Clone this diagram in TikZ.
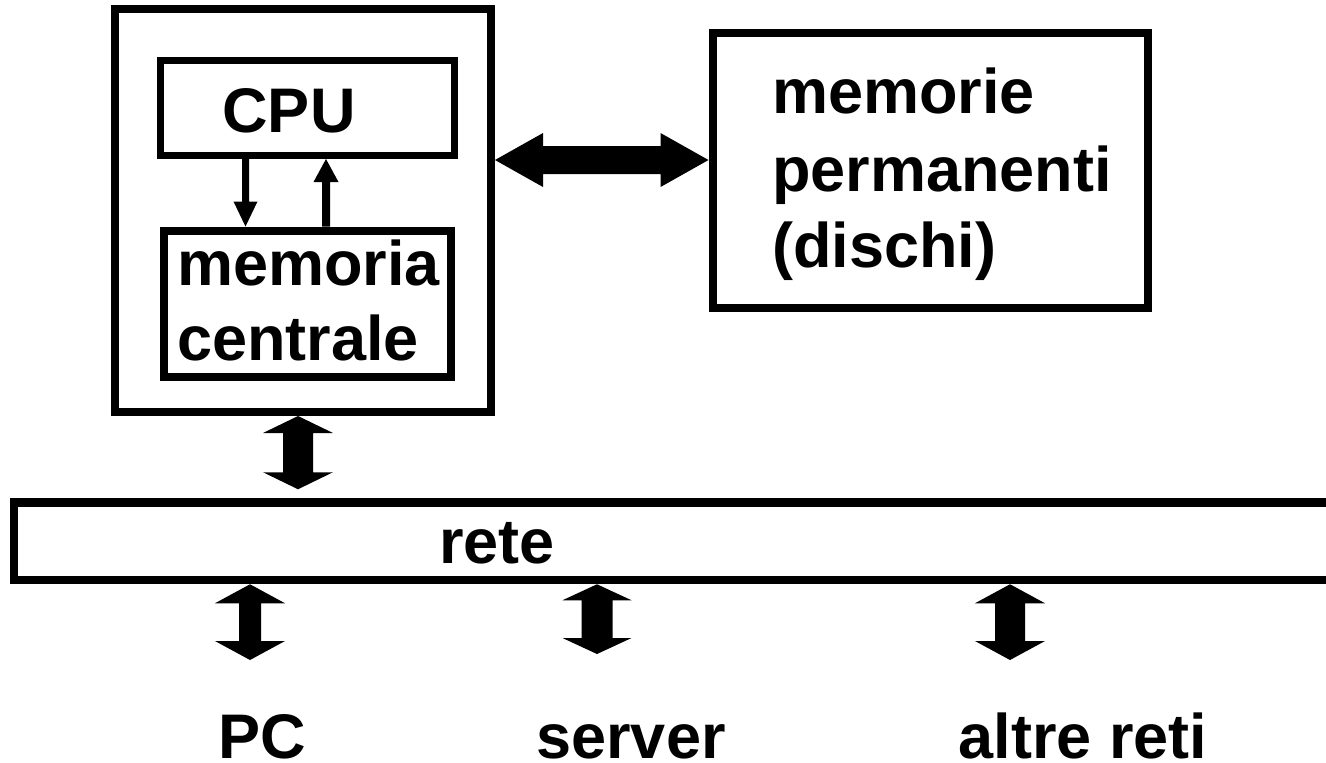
\documentclass[tikz,border=0pt]{standalone}
\usepackage{fontspec}
\setmainfont{Liberation Sans}
\usetikzlibrary{calc}
\newcommand{\vdarrow}[5]{%
  \fill let \p1=(#1), \p2=(#2) in
    (\x1,\y1) -- (\x1+#4,\y1-#5) -- (\x1+#3,\y1-#5) -- (\x1+#3,\y2+#5) -- (\x1+#4,\y2+#5) --
    (\x1,\y2) -- (\x1-#4,\y2+#5) -- (\x1-#3,\y2+#5) -- (\x1-#3,\y1-#5) -- (\x1-#4,\y1-#5) -- cycle;}
\newcommand{\hdarrow}[5]{%
  \fill let \p1=(#1), \p2=(#2) in
    (\x1,\y1) -- (\x1+#5,\y1+#4) -- (\x1+#5,\y1+#3) -- (\x2-#5,\y1+#3) -- (\x2-#5,\y1+#4) --
    (\x2,\y1) -- (\x2-#5,\y1-#4) -- (\x2-#5,\y1-#3) -- (\x1+#5,\y1-#3) -- (\x1+#5,\y1-#4) -- cycle;}
\newcommand{\arrdown}[5]{%
  \fill let \p1=(#1), \p2=(#2) in
    (\x1-#3,\y1) -- (\x1+#3,\y1) -- (\x1+#3,\y2+#5) -- (\x1+#4,\y2+#5) -- (\x1,\y2) --
    (\x1-#4,\y2+#5) -- (\x1-#3,\y2+#5) -- cycle;}
\newcommand{\arrup}[5]{%
  \fill let \p1=(#1), \p2=(#2) in
    (\x1-#3,\y1) -- (\x1+#3,\y1) -- (\x1+#3,\y2-#5) -- (\x1+#4,\y2-#5) -- (\x1,\y2) --
    (\x1-#4,\y2-#5) -- (\x1-#3,\y2-#5) -- cycle;}
\tikzset{
  box/.style={draw, rectangle, inner sep=0pt, line width=4pt, outer sep=2pt},
  thinbox/.style={draw, rectangle, inner sep=0pt, line width=3.5pt, outer sep=1.75pt},
  txt/.style={inner sep=0pt, font=\bfseries\fontsize{31.5pt}{38pt}\selectfont}
}
\begin{document}
\begin{tikzpicture}[x=0.5pt, y=-0.5pt]
\useasboundingbox (0,0) rectangle (1326,762);
\clip (0,0) rectangle (1326,762);
\fill[white] (0,0) rectangle (1326,762);
% boxes
\node[box, minimum width=188pt, minimum height=201.5pt] (outer) at (303,210.5) {};
\node[thinbox, minimum width=147pt, minimum height=47.75pt] (cpu) at (307.5,107.75) {};
\node[box, minimum width=143.75pt, minimum height=73pt] (mem) at (307.25,303.5) {};
\node[box, minimum width=217.75pt, minimum height=137.25pt] (disk) at (930.25,170.25) {};
\node[box, line width=4.25pt, outer sep=2.125pt, minimum width=673pt, minimum height=38.75pt] (rete) at (687,541.25) {};
% labels
\node[txt, anchor=base] (cpulbl) at (289,132) {CPU};
\node[txt, anchor=base west] (memlbl1) at (177,285) {memoria};
\node[txt, anchor=base west] (memlbl2) at (177,360) {centrale};
\node[txt, anchor=base west] (disklbl1) at (772,113) {memorie};
\node[txt, anchor=base west] (disklbl2) at (772,191) {permanenti};
\node[txt, anchor=base west] (disklbl3) at (772,267) {(dischi)};
\node[txt, anchor=base west] (retelbl) at (439,563) {rete};
\node[txt, anchor=base] (pc) at (262,758) {PC};
\node[txt, anchor=base] (server) at (631,758) {server};
\node[txt, anchor=base] (altre) at (1083,758) {altre reti};
% helper coordinates
\coordinate (dx) at (245.5,0);
\coordinate (ux) at (326,0);
\coordinate (hy) at (0,160);
\coordinate (ax1) at (298,0);
\coordinate (pcx) at (250,0);
\coordinate (svx) at (597,0);
\coordinate (alx) at (1010,0);
\coordinate (pcend) at (250,660);
\coordinate (svend) at (597,654);
\coordinate (alend) at (1010,660);
\coordinate (a1t) at (outer.south -| ax1);
\coordinate (a1b) at ([yshift=4.5pt]rete.north -| ax1);
% CPU <-> memoria
\arrdown{cpu.south -| dx}{mem.north -| dx}{1.75pt}{6pt}{12.5pt}
\arrup{mem.north -| ux}{cpu.south -| ux}{2pt}{6.25pt}{11.5pt}
% computer <-> disks
\hdarrow{outer.east |- hy}{disk.west |- hy}{7pt}{13.5pt}{24pt}
% computer <-> rete
\vdarrow{a1t}{a1b}{7.5pt}{17.5pt}{8.5pt}
% rete <-> PC, server, altre reti
\vdarrow{rete.south -| pcx}{pcend}{5.5pt}{17.5pt}{9.5pt}
\vdarrow{rete.south -| svx}{svend}{7.75pt}{17.25pt}{8pt}
\vdarrow{rete.south -| alx}{alend}{7.5pt}{17.5pt}{9.5pt}
\end{tikzpicture}
\end{document}
